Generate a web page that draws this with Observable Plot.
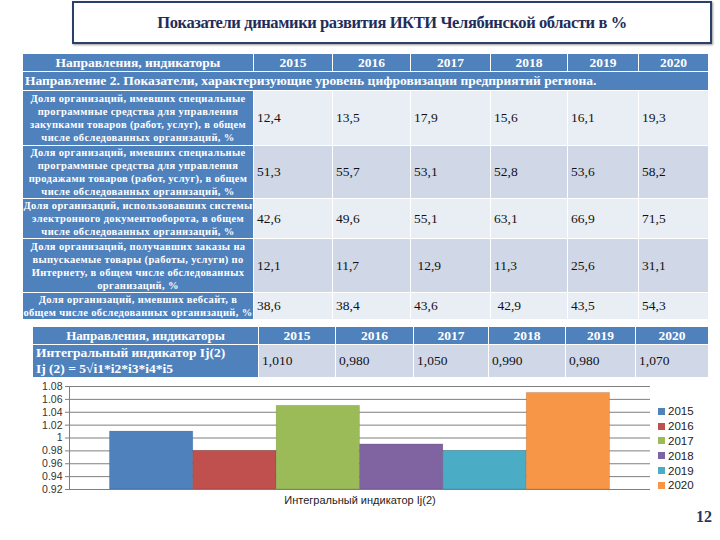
<!DOCTYPE html>
<html><head><meta charset="utf-8">
<script src="https://cdn.jsdelivr.net/npm/d3@7"></script>
<script src="https://cdn.jsdelivr.net/npm/@observablehq/plot@0.6"></script>
<style>
body{margin:0;background:#fff;width:720px;height:540px;position:relative;overflow:hidden;font-family:"Liberation Serif","Times New Roman",serif;}
#titlebox{position:absolute;left:72px;top:1px;width:636px;height:39px;border:2px solid #2B3F6B;box-shadow:1px 1px 2px #999;display:flex;align-items:center;justify-content:center;}
#titlebox span{font-weight:bold;font-size:16.5px;color:#1F2D5A;letter-spacing:-0.4px;}
table{position:absolute;border-collapse:collapse;table-layout:fixed;}
td{border:1px solid #fff;padding:0;overflow:hidden;}
td.h{background:#4F81BD;color:#fff;font-weight:bold;font-size:13.5px;text-align:center;}
td.lab{background:#4F81BD;color:#fff;font-weight:bold;font-size:10.5px;line-height:13px;text-align:center;letter-spacing:0.35px;}
td.v{font-size:13.5px;color:#111;padding-left:3px;}
tr.l td.v{background:#E9EDF4;}
tr.d td.v{background:#D0D8E8;}
#chart{position:absolute;left:20px;top:380px;}
#legend{position:absolute;left:658px;top:404px;font-family:"Liberation Sans",Arial,sans-serif;font-size:11.5px;color:#222;}
#legend div{height:14.8px;display:flex;align-items:center;}
#legend i{display:inline-block;width:7px;height:7px;margin-right:3px;}
#pg{position:absolute;left:696px;top:508px;font-weight:bold;font-size:16px;color:#1F3864;}
</style></head>
<body>
<div id="titlebox"><span>Показатели динамики развития ИКТИ Челябинской области в %</span></div>
<div id="t1"></div><div id="t2"></div>
<div id="chart"></div>
<div id="legend"></div>
<div id="pg">12</div>
<script>
const years = ["2015","2016","2017","2018","2019","2020"];
const headerLabel = "Направления, индикаторы";
const sectionTitle = "Направление 2. Показатели, характеризующие уровень цифровизации предприятий региона.";
const indicatorLabels = [
  "Доля организаций, имевших специальные программные средства для управления закупками товаров (работ, услуг), в общем числе обследованных организаций, %",
  "Доля организаций, имевших специальные программные средства для управления продажами товаров (работ, услуг), в общем числе обследованных организаций, %",
  "Доля организаций, использовавших системы электронного документооборота, в общем числе обследованных организаций, %",
  "Доля организаций, получавших заказы на выпускаемые товары (работы, услуги) по Интернету, в общем числе обследованных организаций, %",
  "Доля организаций, имевших вебсайт, в общем числе обследованных организаций, %"
];
const purchases = ["12,4","13,5","17,9","15,6","16,1","19,3"];
const sales = ["51,3","55,7","53,1","52,8","53,6","58,2"];
const edocs = ["42,6","49,6","55,1","63,1","66,9","71,5"];
const orders = ["12,1","11,7"," 12,9","11,3","25,6","31,1"];
const websites = ["38,6","38,4","43,6"," 42,9","43,5","54,3"];
const integralLabel1 = "Интегральный индикатор Ij(2)";
const integralLabel2 = "Ij (2) = 5√i1*i2*i3*i4*i5";
const integralText = ["1,010","0,980","1,050","0,990","0,980","1,070"];
const integral = [1.01, 0.98, 1.05, 0.99, 0.98, 1.07];
const chartCategory = "Интегральный индикатор Ij(2)";
const yTicks = [0.92,0.94,0.96,0.98,1.00,1.02,1.04,1.06,1.08];
const colors = ["#4F81BD","#C0504D","#9BBB59","#8064A2","#4BACC6","#F79646"];

// Table 1
const cw1 = [231,79,78,80,77,71,70];
const rh1 = [55,52,38,54,23];
const rows1 = [purchases, sales, edocs, orders, websites];
let h = `<table style="left:22px;top:53px;width:686px"><colgroup>${cw1.map(w=>`<col style="width:${w}px">`).join("")}</colgroup>`;
h += `<tr style="height:18px"><td class="h">${headerLabel}</td>${years.map(y=>`<td class="h">${y}</td>`).join("")}</tr>`;
h += `<tr style="height:19px"><td class="h" colspan="7" style="text-align:left;padding-left:2px;white-space:nowrap">${sectionTitle}</td></tr>`;
rows1.forEach((r,i)=>{
  h += `<tr class="${i%2?'d':'l'}" style="height:${rh1[i]}px"><td class="lab">${indicatorLabels[i]}</td>${r.map(v=>`<td class="v" style="white-space:pre">${v}</td>`).join("")}</tr>`;
});
h += `</table>`;
document.getElementById("t1").innerHTML = h;

// Table 2
const cw2 = [226,77,78,75,77,70,73];
let h2 = `<table style="left:32px;top:326px;width:676px"><colgroup>${cw2.map(w=>`<col style="width:${w}px">`).join("")}</colgroup>`;
h2 += `<tr style="height:18px"><td class="h" style="font-size:13px">${headerLabel}</td>${years.map(y=>`<td class="h">${y}</td>`).join("")}</tr>`;
h2 += `<tr class="d" style="height:33px"><td class="h" style="text-align:left;padding-left:3px;line-height:16px;font-size:13.5px">${integralLabel1}<br>${integralLabel2}</td>${integralText.map(v=>`<td class="v" style="font-size:13.5px">${v}</td>`).join("")}</tr>`;
h2 += `</table>`;
document.getElementById("t2").innerHTML = h2;

// Chart: years laid out side by side along a linear x index
const data = years.map((y,i)=>({year: y, i, value: integral[i]}));
const yMin = yTicks[0];
const xPad = 0.485;
const xDomain = [-xPad, years.length + xPad];
const chart = Plot.plot({
  width: 640, height: 135,
  marginLeft: 49, marginRight: 10, marginTop: 6, marginBottom: 26,
  style: {fontFamily: "Liberation Sans, Arial, sans-serif", fontSize: "10.5px", color: "#333", background: "transparent"},
  x: {domain: xDomain, axis: null},
  y: {domain: [yTicks[0], yTicks[yTicks.length-1]], label: null},
  color: {domain: years, range: colors},
  marks: [
    Plot.gridY(yTicks, {stroke: "#7f7f7f", strokeOpacity: 1}),
    Plot.rectY(data, {x1: "i", x2: d => d.i + 1, y1: yMin, y2: "value", fill: "year", stroke: "#00000022", strokeWidth: 0.8}),
    Plot.ruleY([yMin], {stroke: "#7f7f7f"}),
    Plot.ruleX([xDomain[0]], {stroke: "#7f7f7f"}),
    Plot.axisY(yTicks, {tickSize: 4, tickPadding: 3, stroke: "#7f7f7f", tickFormat: d => String(+d.toFixed(2)), fill: "#333", label: null}),
    Plot.text([chartCategory], {frameAnchor: "bottom", dy: 14, fontSize: 11, fill: "#222"})
  ]
});
document.getElementById("chart").appendChild(chart);

// Legend
document.getElementById("legend").innerHTML = years.map((y,i)=>`<div><i style="background:${colors[i]}"></i>${y}</div>`).join("");
</script>
</body></html>
